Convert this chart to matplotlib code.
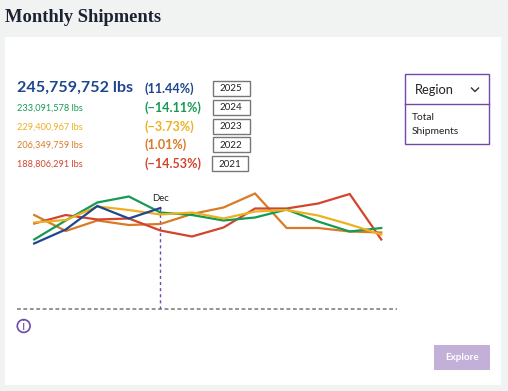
import matplotlib
matplotlib.use("Agg")
import matplotlib.pyplot as plt
from matplotlib.patches import Rectangle, Circle

W, H = 508, 391
months = ["Aug", "Sep", "Oct", "Nov", "Dec", "Jan", "Feb", "Mar", "Apr", "May", "Jun", "Jul"]
v2025 = [13.0, 15.8, 20.5, 18.0, 20.1]
v2024 = [13.8, 17.6, 21.2, 22.4, 19.2, 18.7, 17.6, 18.2, 19.8, 17.4, 15.4, 16.1]
v2023 = [17.2, 17.7, 20.4, 19.7, 18.8, 19.2, 18.0, 19.4, 19.7, 18.6, 16.8, 14.8]
v2022 = [18.7, 15.5, 17.6, 16.7, 16.9, 18.9, 20.2, 23.0, 16.1, 16.1, 15.4, 15.2]
v2021 = [17.0, 18.7, 17.8, 18.0, 15.6, 14.4, 16.2, 20.0, 20.0, 21.0, 22.9, 13.8]
years = ["2025", "2024", "2023", "2022", "2021"]
totals = ["245,759,752 lbs", "233,091,578 lbs", "229,400,967 lbs", "206,349,759 lbs", "188,806,291 lbs"]
changes = ["(11.44%)", "(−14.11%)", "(−3.73%)", "(1.01%)", "(−14.53%)"]

BLUE, GREEN, YELLOW, ORANGE, RED = "#1f4690", "#159a54", "#edb021", "#d97b26", "#d2452d"
PURPLE = "#7149a8"
colors = [BLUE, GREEN, YELLOW, ORANGE, RED]
SANS = "Lato"

fig = plt.figure(figsize=(W / 100, H / 100), dpi=100, facecolor="#f1f3f3")
bg = fig.add_axes([0, 0, 1, 1])
bg.set_xlim(0, W); bg.set_ylim(H, 0); bg.axis("off")

bg.add_patch(Rectangle((5, 37), 496, 348, fc="white", ec="none"))
bg.text(5, 17, "Monthly Shipments", family="Liberation Serif", weight="bold", fontsize=13.3,
        color="#1c2230", va="center", ha="left")

rows = [87.3, 107.7, 126.7, 145.3, 164]
change_rows = [88.3, 107.7, 126.3, 145, 163.7]
sizes = [11.6, 6.6, 6.6, 6.6, 6.6]
tops = [80.5, 99.5, 118.5, 137, 156]
for i in range(5):
    bg.text(17, rows[i], totals[i], family=SANS, fontsize=sizes[i], color=colors[i],
            weight="bold" if i == 0 else "normal", va="center", ha="left")
    bg.text(144.5, change_rows[i], changes[i], family=SANS, fontsize=9.1, color=colors[i],
            weight="bold", va="center", ha="left")
    w = 37 if i < 4 else 36
    left = 212.5 if i < 4 else 212
    bg.add_patch(Rectangle((left, tops[i]), w, 15.2, fc="white", ec="#777777", lw=1))
    bg.text(left + w / 2, tops[i] + 8.2, years[i], family=SANS, fontsize=7, color="#222222",
            va="center", ha="center")

# Region panel
bg.add_patch(Rectangle((405.3, 73.5), 83.7, 70, fc="white", ec=PURPLE, lw=1))
bg.plot([405.3, 489], [104.4, 104.4], color=PURPLE, lw=1)
bg.text(415, 90, "Region", family=SANS, fontsize=9.3, color="#222222", va="center", ha="left")
bg.plot([471.5, 475, 478.5], [88, 91.5, 88], color="#333333", lw=1)
bg.text(411.5, 117.3, "Total", family=SANS, fontsize=7.4, color="#222222", va="center", ha="left")
bg.text(411.5, 132, "Shipments", family=SANS, fontsize=7.4, color="#222222", va="center", ha="left")

# Explore button
bg.add_patch(Rectangle((434, 345), 55.5, 25, fc="#c3b0d9", ec="none"))
bg.text(461.7, 358, "Explore", family=SANS, fontsize=7.1, color="white", weight="bold",
        va="center", ha="center")

# Info icon
bg.add_patch(Circle((23.7, 326), 6.4, fc="none", ec=PURPLE, lw=1.2))
bg.text(23.7, 326.2, "i", family="DejaVu Sans", fontsize=8.5, color=PURPLE, va="center", ha="center")

# Chart
ax = fig.add_axes([16.5 / W, 1 - 308.5 / H, 380 / W, 128.5 / H])
ax.set_xlim(-0.561, 11.483)
ax.set_ylim(0, 25.7)
ax.axis("off")
ax.patch.set_alpha(0)
x = list(range(12))
ax.axhline(0, color="#777777", lw=1.1, dashes=(2.5, 1.7), clip_on=False)
ax.plot([4, 4], [0, v2025[4]], color=PURPLE, lw=1, dashes=(2.2, 2.2))
for vals, c in [(v2022, ORANGE), (v2021, RED), (v2024, GREEN), (v2023, YELLOW), (v2025, BLUE)]:
    ax.plot(x[:len(vals)], vals, color=c, lw=1.6, solid_joinstyle="miter")
ax.annotate(months[4], (4, v2025[4]), xytext=(0, 3.9), textcoords="offset points", ha="center",
            va="bottom", family=SANS, fontsize=6.8, color="#222222")

fig.savefig("out.png", dpi=100, facecolor=fig.get_facecolor())
